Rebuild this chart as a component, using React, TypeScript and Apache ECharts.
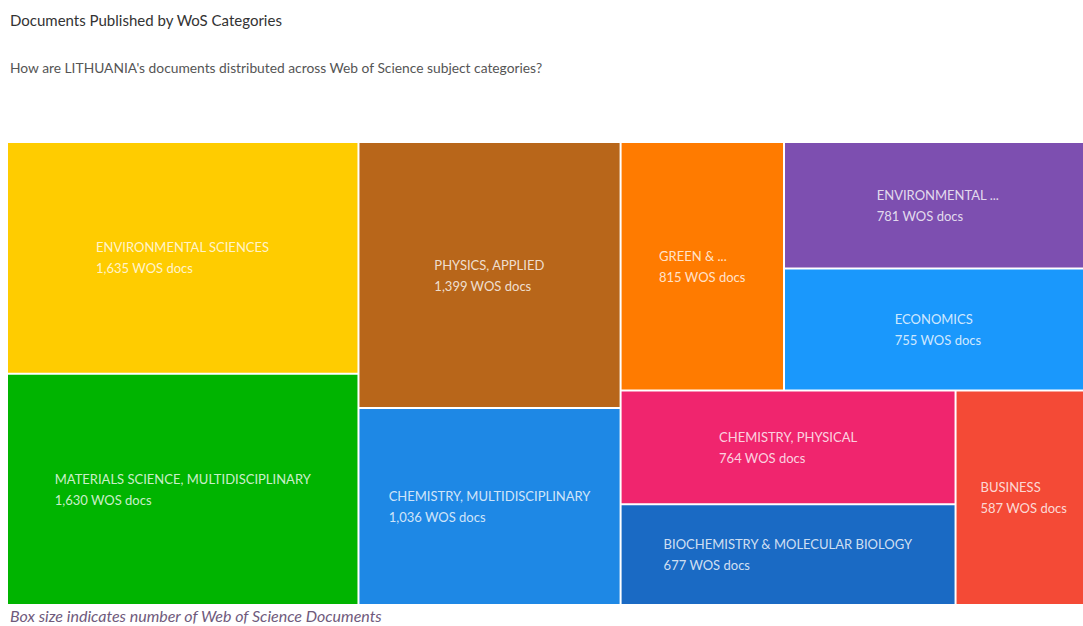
import React, { useEffect, useRef } from "react";
import * as echarts from "echarts";

// ---- data ----
const categories = [
  "ENVIRONMENTAL SCIENCES",
  "MATERIALS SCIENCE, MULTIDISCIPLINARY",
  "PHYSICS, APPLIED",
  "CHEMISTRY, MULTIDISCIPLINARY",
  "GREEN & ...",
  "ENVIRONMENTAL ...",
  "ECONOMICS",
  "CHEMISTRY, PHYSICAL",
  "BIOCHEMISTRY & MOLECULAR BIOLOGY",
  "BUSINESS",
];
const docs = [1635, 1630, 1399, 1036, 815, 781, 755, 764, 677, 587];

// nesting of category indices (structure only)
const grouping: any[] = [0, 1, 2, 3, [4, [5, 6]], [7, 8, 9]];

// styles
const palette = [
  "#ffcc00",
  "#00b400",
  "#b8661a",
  "#1e88e5",
  "#ff7b00",
  "#7d4fb0",
  "#1a98fc",
  "#f0256e",
  "#1a6ac4",
  "#f44a36",
];

const LABEL_FONT = "Lato";
const LABEL_SIZE = 13;
const LABEL_LH = 21;

const fmt = (v: number) => v.toLocaleString("en-US");
const valueText = (v: number) => `${fmt(v)} WOS docs`;

function build(node: any, pads: Record<string, number[]>): any {
  if (typeof node === "number") {
    const item: any = {
      name: categories[node],
      value: docs[node],
      itemStyle: { color: palette[node] },
    };
    if (pads[categories[node]]) item.label = { padding: pads[categories[node]] };
    return item;
  }
  const children = node.map((n: any) => build(n, pads));
  const value = children.reduce((s: number, c: any) => s + c.value, 0);
  return { name: " ", value, children, itemStyle: { borderColor: "#ffffff" } };
}

export default function App() {
  const ref = useRef<HTMLDivElement>(null);
  useEffect(() => {
    if (!ref.current) return;
    const chart = echarts.init(ref.current, undefined, { renderer: "svg" });
    chart.setOption({
      animation: false,
      title: [
        {
          text: "Documents Published by WoS Categories",
          left: 10,
          top: 12,
          padding: 0,
          textStyle: {
            fontFamily: "Lato",
            fontSize: 15,
            fontWeight: "normal",
            color: "#333333",
          },
        },
        {
          text: "How are LITHUANIA's documents distributed across Web of Science subject categories?",
          left: 10,
          top: 60,
          padding: 0,
          textStyle: {
            fontFamily: "Lato",
            fontSize: 13.8,
            fontWeight: "normal",
            color: "#555555",
          },
        },
        {
          text: "Box size indicates number of Web of Science Documents",
          left: 10,
          top: 607,
          padding: 0,
          textStyle: {
            fontFamily: "Lato",
            fontSize: 16,
            fontStyle: "italic",
            fontWeight: "normal",
            color: "#6f5a7c",
          },
        },
      ],
      series: [
        {
          type: "treemap",
          left: 8,
          top: 143,
          width: 1083,
          height: 461,
          sort: false,
          squareRatio: 1.77,
          roam: false,
          nodeClick: false,
          breadcrumb: { show: false },
          itemStyle: { borderWidth: 0, gapWidth: 2, borderColor: "#ffffff" },
          label: {
            show: true,
            position: "inside",
            formatter: (p: any) => `{n|${p.name}}\n{n|${valueText(p.value)}}`,
            rich: {
              n: {
                align: "left",
                color: "rgba(255,255,255,0.8)",
                fontFamily: LABEL_FONT,
                fontSize: LABEL_SIZE,
                lineHeight: LABEL_LH,
              },
            },
          },
          upperLabel: { show: false },
          data: grouping.map((g) => build(g, {})),
        },
      ],
    });

    // centre each label block inside its cell, using the cell sizes the treemap laid out
    const pads: Record<string, number[]> = {};
    try {
      const ctx = document.createElement("canvas").getContext("2d") as CanvasRenderingContext2D;
      ctx.font = `${LABEL_SIZE}px ${LABEL_FONT}`;
      const seriesModel = (chart as any).getModel().getSeriesByIndex(0);
      const tree = seriesModel.getData().tree;
      tree.eachNode((node: any) => {
        if (node.children && node.children.length) return;
        const lay = node.getLayout();
        if (!lay || !node.name || !node.name.trim()) return;
        const w = Math.max(
          ctx.measureText(node.name).width,
          ctx.measureText(valueText(node.getValue())).width
        );
        const h = 2 * LABEL_LH;
        pads[node.name] = [
          Math.max((lay.height - h) / 2, 0),
          0,
          0,
          Math.max((lay.width - w) / 2, 0),
        ];
      });
      chart.setOption({ series: [{ data: grouping.map((g) => build(g, pads)) }] });
    } catch (e) {
      // keep default label placement
    }
    return () => chart.dispose();
  }, []);
  return (
    <div
      ref={ref}
      style={{ position: "fixed", left: 0, top: 0, width: 1083, height: 626, background: "#ffffff" }}
    />
  );
}
